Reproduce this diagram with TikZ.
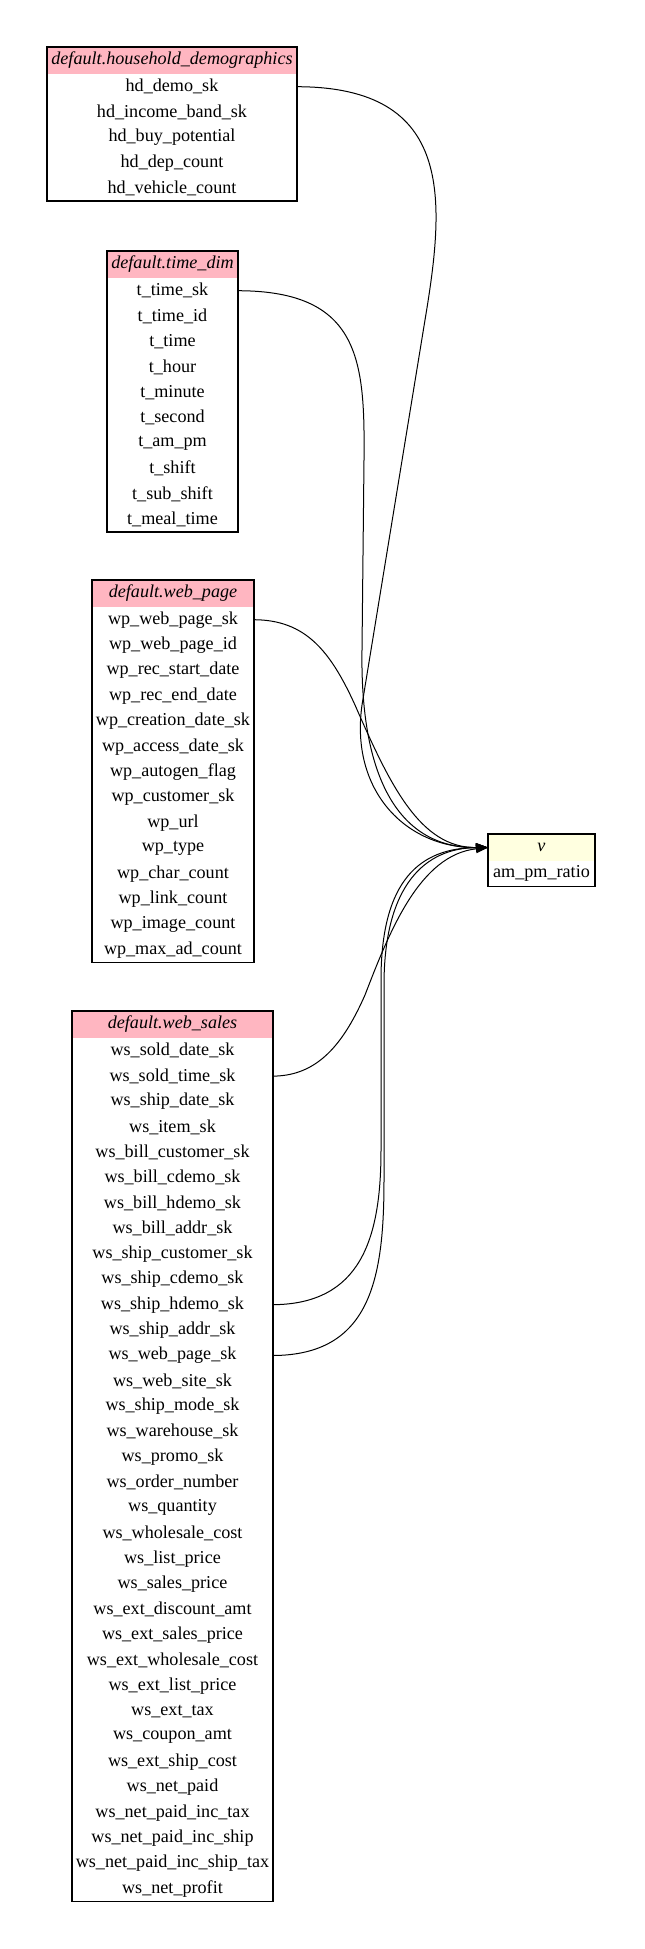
\documentclass[tikz,border=0pt]{standalone}
\usepackage{fontspec}
\setmainfont{Liberation Serif}
\usetikzlibrary{arrows.meta}
\definecolor{hdrpink}{HTML}{FFB6C1}
\definecolor{hdryellow}{HTML}{FFFFE0}
\tikzset{
  cell/.style={rectangle, inner sep=0pt, outer sep=0pt, font=\fontsize{13.6}{16}\selectfont},
  boxline/.style={draw=black, line width=0.8pt},
  edge/.style={draw=black, line width=0.75pt, -{Triangle[length=9pt,width=6.5pt]}},
}
\newcommand\dbtable[8]{%
  \pgfmathsetmacro\tw{(#3-#2)*0.75}%
  \node[cell, fill=#5, minimum width=\tw pt, minimum height=20.25pt] (#1-h) at ({(#2+#3)/2},{#4+13.5}) {\textit{#6}};
  \foreach \r [count=\i] in {#7} {
    \node[cell, minimum width=\tw pt, minimum height=19.05pt] (#1-\i) at ({(#2+#3)/2},{#4+27+(\i-0.5)*25.4}) {\r};
  }
  \draw[boxline] (#2,#4) rectangle (#3,{#4+27+#8*25.4});
}
\begin{document}
\begin{tikzpicture}[x=0.75pt,y=-0.75pt]
\path[use as bounding box, fill=white] (0,0) rectangle (644,1949);

\dbtable{hd}{47}{297}{47}{hdrpink}{default.household\_demographics}{hd\_demo\_sk,hd\_income\_band\_sk,hd\_buy\_potential,hd\_dep\_count,hd\_vehicle\_count}{5}

\dbtable{td}{107}{238}{251}{hdrpink}{default.time\_dim}{t\_time\_sk,t\_time\_id,t\_time,t\_hour,t\_minute,t\_second,t\_am\_pm,t\_shift,t\_sub\_shift,t\_meal\_time}{10}

\dbtable{wp}{92}{254}{580}{hdrpink}{default.web\_page}{wp\_web\_page\_sk,wp\_web\_page\_id,wp\_rec\_start\_date,wp\_rec\_end\_date,wp\_creation\_date\_sk,wp\_access\_date\_sk,wp\_autogen\_flag,wp\_customer\_sk,wp\_url,wp\_type,wp\_char\_count,wp\_link\_count,wp\_image\_count,wp\_max\_ad\_count}{14}

\dbtable{ws}{72}{273}{1011}{hdrpink}{default.web\_sales}{ws\_sold\_date\_sk,ws\_sold\_time\_sk,ws\_ship\_date\_sk,ws\_item\_sk,ws\_bill\_customer\_sk,ws\_bill\_cdemo\_sk,ws\_bill\_hdemo\_sk,ws\_bill\_addr\_sk,ws\_ship\_customer\_sk,ws\_ship\_cdemo\_sk,ws\_ship\_hdemo\_sk,ws\_ship\_addr\_sk,ws\_web\_page\_sk,ws\_web\_site\_sk,ws\_ship\_mode\_sk,ws\_warehouse\_sk,ws\_promo\_sk,ws\_order\_number,ws\_quantity,ws\_wholesale\_cost,ws\_list\_price,ws\_sales\_price,ws\_ext\_discount\_amt,ws\_ext\_sales\_price,ws\_ext\_wholesale\_cost,ws\_ext\_list\_price,ws\_ext\_tax,ws\_coupon\_amt,ws\_ext\_ship\_cost,ws\_net\_paid,ws\_net\_paid\_inc\_tax,ws\_net\_paid\_inc\_ship,ws\_net\_paid\_inc\_ship\_tax,ws\_net\_profit}{34}

\dbtable{v}{488}{595}{834}{hdryellow}{v}{am\_pm\_ratio}{1}

% connectors
\draw[edge] (hd-1.east) .. controls (455,87) and (445,200) .. (425,320) -- (362,705) .. controls (350,790) and (405,848) .. (v-h.west);
\draw[edge] (td-1.east) .. controls (360,291) and (365,360) .. (364,460) -- (362,650) .. controls (360,780) and (400,848) .. (v-h.west);
\draw[edge] (wp-1.east) .. controls (305,620) and (330,650) .. (355,705) .. controls (390,785) and (420,848) .. (v-h.west);
\draw[edge] (ws-2.east) .. controls (320,1076) and (345,1040) .. (365,995) .. controls (390,930) and (420,855) .. (v-h.west);
\draw[edge] (ws-11.east) .. controls (360,1304) and (381,1240) .. (381,1150) -- (381,980) .. controls (381,880) and (420,848) .. (v-h.west);
\draw[edge] (ws-13.east) .. controls (370,1355) and (384,1280) .. (384,1180) -- (384,985) .. controls (384,885) and (425,848) .. (v-h.west);
\end{tikzpicture}
\end{document}
